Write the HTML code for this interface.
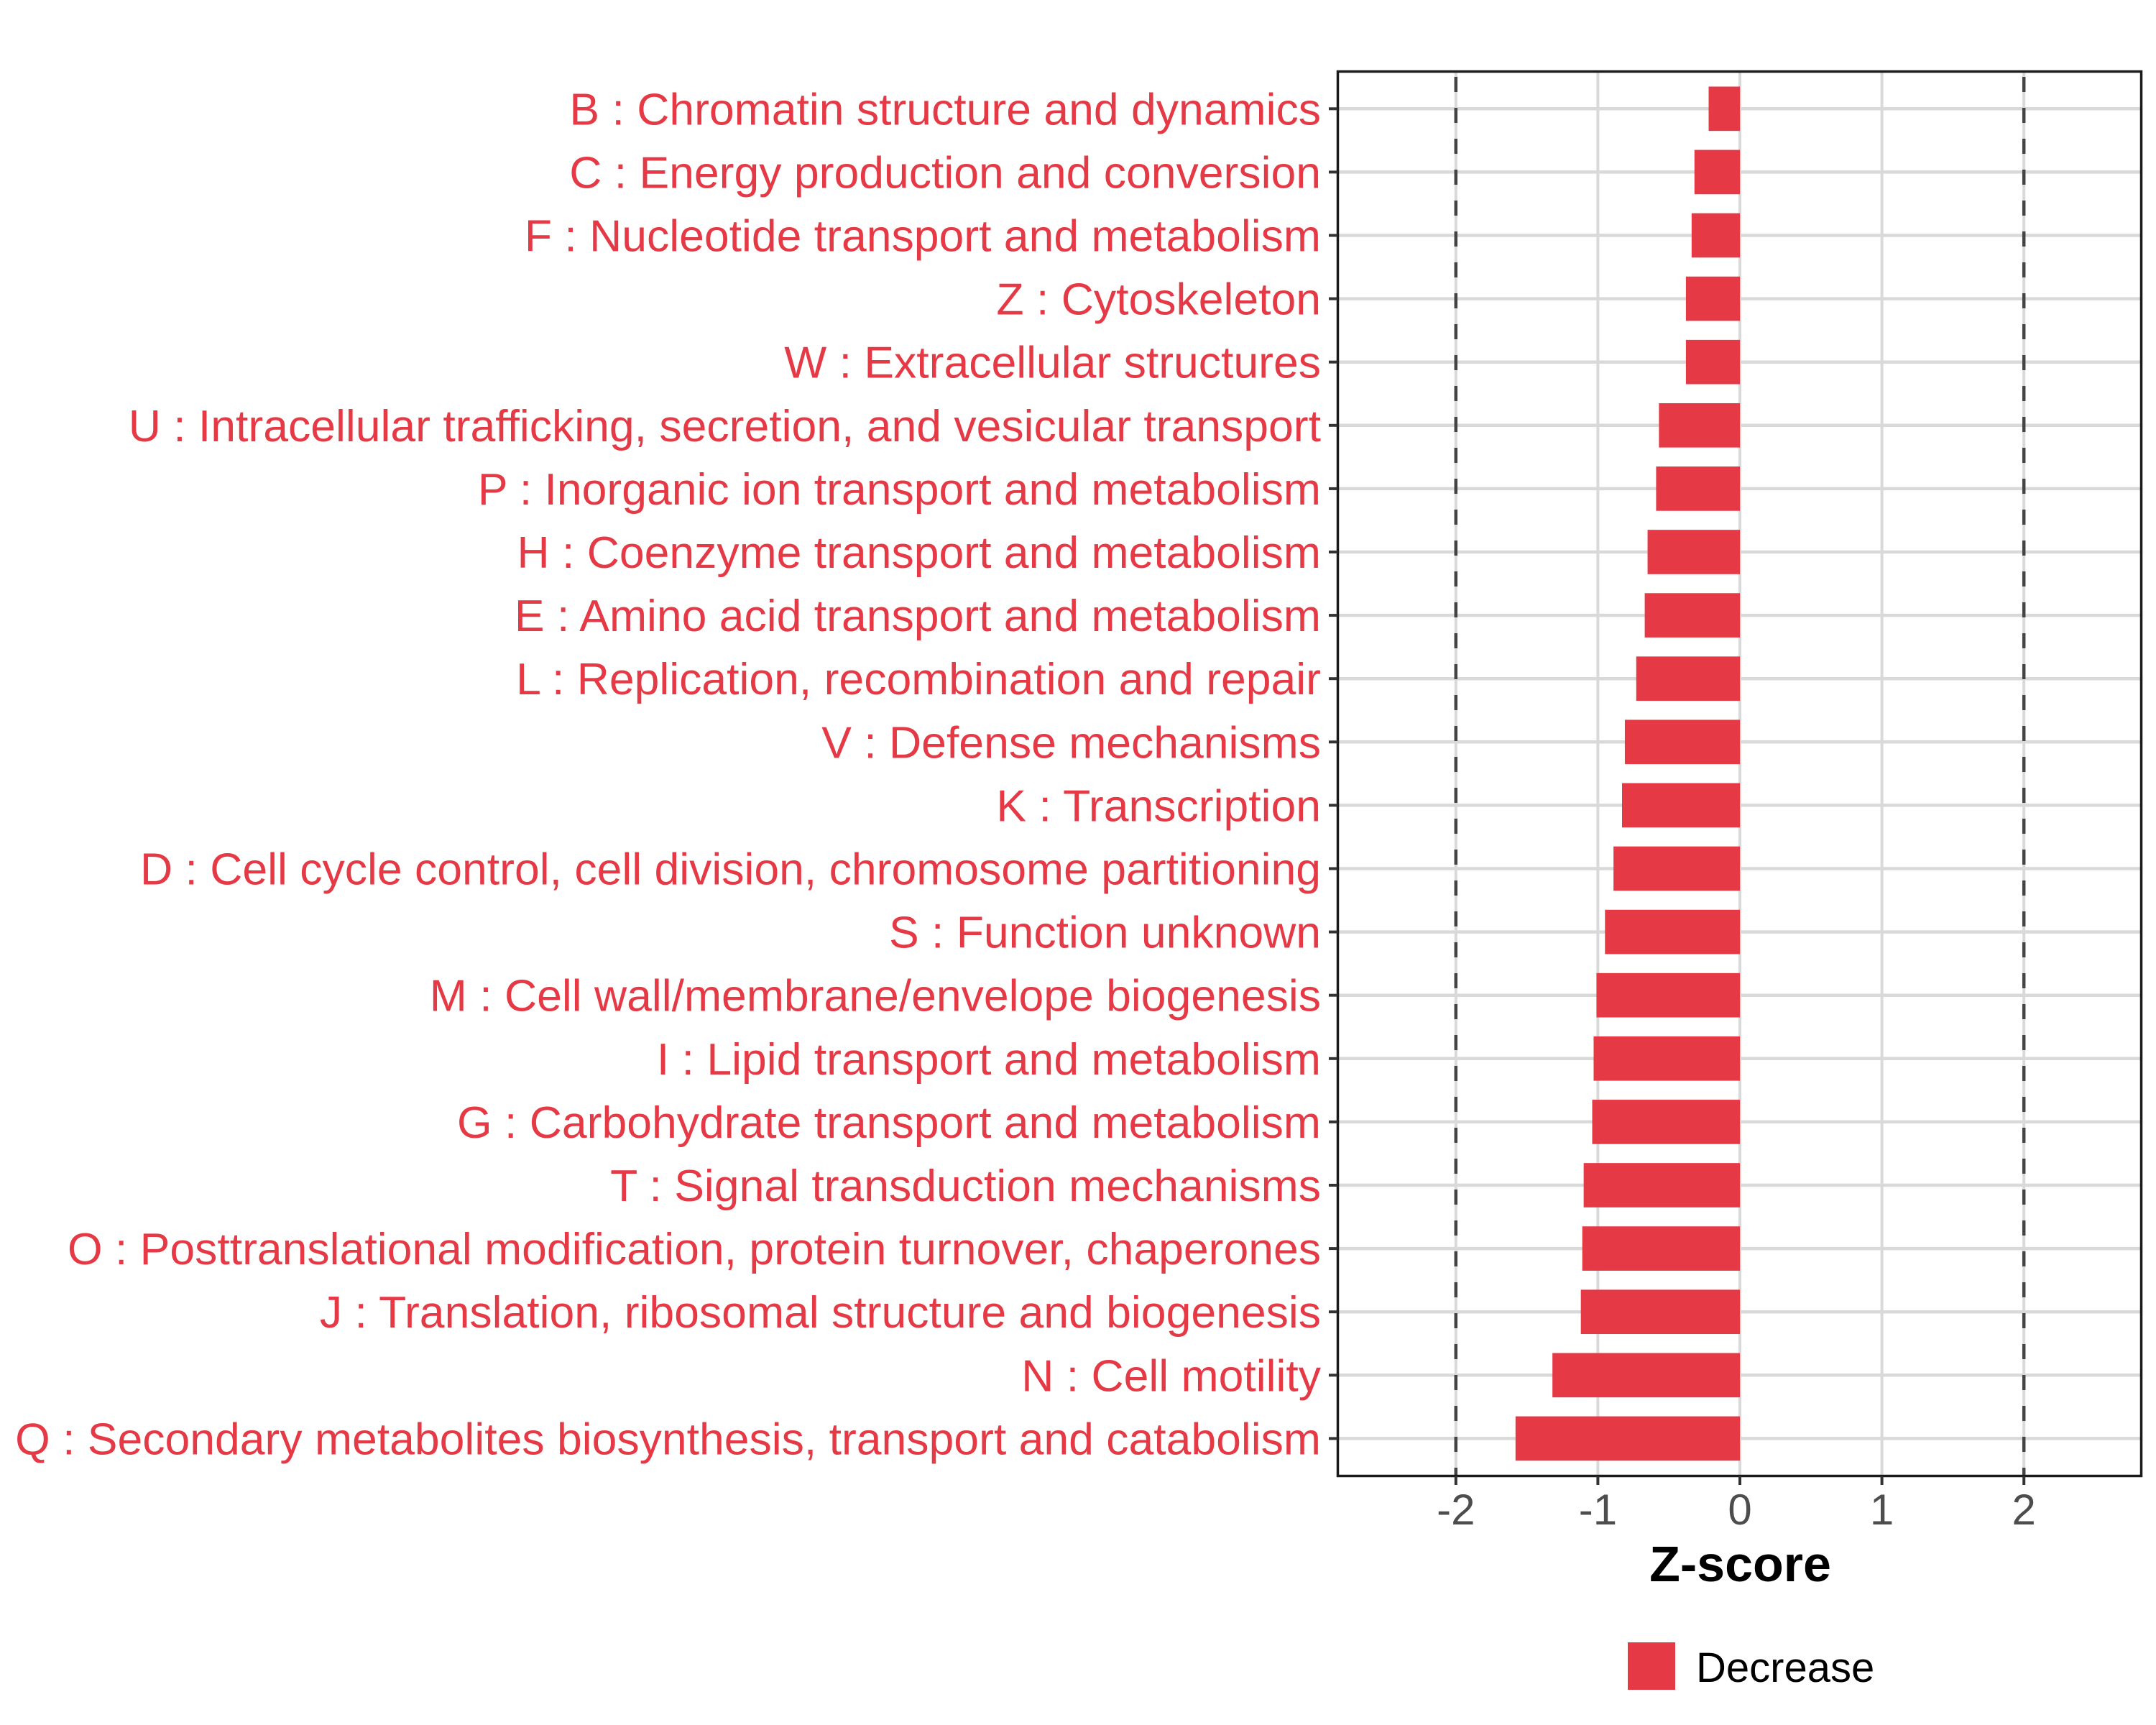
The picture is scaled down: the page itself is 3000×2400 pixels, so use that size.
<!DOCTYPE html>
<html><head><meta charset="utf-8"><style>
html,body{margin:0;padding:0;background:#fff;}
svg{display:block;}
text{font-family:"Liberation Sans",Arial,sans-serif;}
</style></head><body>
<svg id="chart" width="3000" height="2400" viewBox="0 0 3000 2400" xmlns="http://www.w3.org/2000/svg">
<rect width="3000" height="2400" fill="#fff"/>
<g id="grid"></g>
<g id="bars"></g>
<g id="refs"></g>
<rect x="1861.5" y="99.5" width="1118" height="1954" fill="none" stroke="#1a1a1a" stroke-width="3.5"/>
<g id="yaxis"></g>
<g id="xaxis"></g>
<text x="2421.5" y="2200" font-size="70" font-weight="bold" text-anchor="middle" fill="#000">Z-score</text>
<g>
<rect x="2265" y="2285" width="66" height="66" fill="#E63946"/>
<text x="2360" y="2340" font-size="58" fill="#000">Decrease</text>
</g>
</svg>
<script>
const categories = [
"B : Chromatin structure and dynamics",
"C : Energy production and conversion",
"F : Nucleotide transport and metabolism",
"Z : Cytoskeleton",
"W : Extracellular structures",
"U : Intracellular trafficking, secretion, and vesicular transport",
"P : Inorganic ion transport and metabolism",
"H : Coenzyme transport and metabolism",
"E : Amino acid transport and metabolism",
"L : Replication, recombination and repair",
"V : Defense mechanisms",
"K : Transcription",
"D : Cell cycle control, cell division, chromosome partitioning",
"S : Function unknown",
"M : Cell wall/membrane/envelope biogenesis",
"I : Lipid transport and metabolism",
"G : Carbohydrate transport and metabolism",
"T : Signal transduction mechanisms",
"O : Posttranslational modification, protein turnover, chaperones",
"J : Translation, ribosomal structure and biogenesis",
"N : Cell motility",
"Q : Secondary metabolites biosynthesis, transport and catabolism"
];
const zscores = [-0.22,-0.32,-0.34,-0.38,-0.38,-0.57,-0.59,-0.65,-0.67,-0.73,-0.81,-0.83,-0.89,-0.95,-1.01,-1.03,-1.04,-1.10,-1.11,-1.12,-1.32,-1.58];
const xTicks = [-2,-1,0,1,2];
const xTickLabels = ["-2","-1","0","1","2"];
const refLines = [-2,2];

const NS="http://www.w3.org/2000/svg";
const x0=2421, unit=197.6;
function xs(v){return x0+v*unit;}
const rowTop=151.3, rowStep=88.1;
function ys(i){return rowTop+i*rowStep;}
function mk(tag,attrs,parent){const e=document.createElementNS(NS,tag);for(const k in attrs)e.setAttribute(k,attrs[k]);parent.appendChild(e);return e;}
const grid=document.getElementById('grid'),bars=document.getElementById('bars'),refs=document.getElementById('refs'),yaxis=document.getElementById('yaxis'),xaxis=document.getElementById('xaxis');

xTicks.forEach((t,i)=>{
  const l=mk('line',{x1:xs(t),x2:xs(t),y1:99,y2:2054,stroke:'#d9d9d9','stroke-width':4},grid);
  
  
  const tk=mk('line',{x1:xs(t),x2:xs(t),y1:2054,y2:2066,stroke:'#333','stroke-width':4},xaxis);
  
  
  const tl=mk('text',{x:xs(t),y:2121,'font-size':60,'text-anchor':'middle',fill:'#4d4d4d'},xaxis);
  tl.textContent=xTickLabels[i];
  
  
});
categories.forEach((c,i)=>{
  const y=ys(i);
  const g=mk('line',{x1:1861,x2:2980,y1:y,y2:y,stroke:'#d9d9d9','stroke-width':4.5},grid);
  
  
  const v=zscores[i];
  const h=rowStep*0.7;
  const b=mk('rect',{x:Math.min(xs(v),xs(0)),y:y-h/2,width:Math.abs(xs(v)-xs(0)),height:h,fill:'#E63946'},bars);
  
  
  const tk=mk('line',{x1:1849,x2:1861,y1:y,y2:y,stroke:'#333','stroke-width':4},yaxis);
  
  
  const t=mk('text',{x:1838,y:y+22,'font-size':62.5,'text-anchor':'end',fill:'#E63946'},yaxis);
  t.textContent=c;
  
  
});
refLines.forEach(r=>{
  const l=mk('line',{x1:xs(r),x2:xs(r),y1:99,y2:2054,stroke:'#444','stroke-width':4.5,'stroke-dasharray':'21 22','stroke-dashoffset':'-8'},refs);
  
  
});
</script>
</body></html>
